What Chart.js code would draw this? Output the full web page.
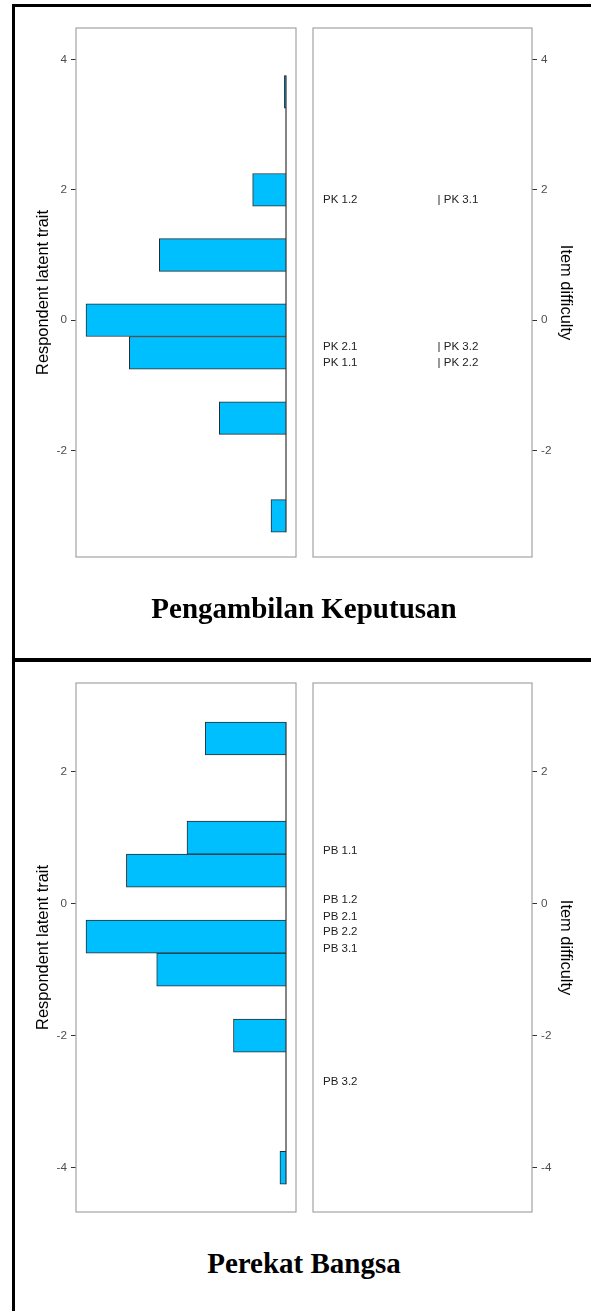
<!DOCTYPE html>
<html><head><meta charset="utf-8">
<script src="https://cdn.jsdelivr.net/npm/chart.js@4.4.1/dist/chart.umd.min.js"></script>
<style>
html,body{margin:0;padding:0;background:#fff;width:591px;height:1311px;overflow:hidden;position:relative}
canvas{position:absolute}
.frame{position:absolute;left:12px;top:4px;width:700px;height:1400px;border-left:3px solid #000;border-top:3px solid #000}
.divider{position:absolute;left:12px;top:658px;width:700px;height:4px;background:#000}
.ttl{position:absolute;left:14px;width:580px;text-align:center;font-family:"Liberation Serif","Times New Roman",serif;font-weight:bold;font-size:29px;line-height:29px;height:29px;color:#000;white-space:nowrap}
</style></head><body>
<div class="frame"></div><div class="divider"></div>
<canvas id="c1" width="300" height="600" style="left:0;top:0"></canvas>
<canvas id="c2" width="291" height="600" style="left:300px;top:0"></canvas>
<canvas id="c3" width="300" height="600" style="left:0;top:640px"></canvas>
<canvas id="c4" width="291" height="600" style="left:300px;top:640px"></canvas>
<div class="ttl" id="t1" style="top:594px"></div>
<div class="ttl" id="t2" style="top:1249px"></div>
<script>
// ---- data ----
const sectionTitles = ['Pengambilan Keputusan', 'Perekat Bangsa'];
const binWidth = 0.5;
const pkBins = [-3, -1.5, -0.5, 0, 1, 2, 3.5];
const pkCounts = [9, 40, 94, 120, 76, 20, 1];
const pbBins = [-4, -2, -1, -0.5, 0.5, 1, 2.5];
const pbCounts = [3, 26, 64, 99, 79, 49, 40];
const pkItems = ['PK 1.2', '| PK 3.1', 'PK 2.1', '| PK 3.2', 'PK 1.1', '| PK 2.2'];
const pkDifficulty = [1.84, 1.84, -0.41, -0.41, -0.65, -0.65];
const pkColumn = [0, 1, 0, 1, 0, 1];
const pbItems = ['PB 1.1', 'PB 1.2', 'PB 2.1', 'PB 2.2', 'PB 3.1', 'PB 3.2'];
const pbDifficulty = [0.80, 0.06, -0.20, -0.43, -0.69, -2.70];
const pbColumn = [0, 0, 0, 0, 0, 0];
const pkRange = [-3.63, 4.48];
const pbRange = [-4.67, 3.34];
const pkTicks = [4, 2, 0, -2];
const pbTicks = [2, 0, -2, -4];
const leftAxisTitle = 'Respondent latent trait';
const rightAxisTitle = 'Item difficulty';

document.getElementById('t1').textContent = sectionTitles[0];
document.getElementById('t2').textContent = sectionTitles[1];

Chart.defaults.font.family = '"Liberation Sans", Arial, sans-serif';

const panelBox = {
  id: 'panelBox',
  beforeDatasetsDraw(chart) {
    const {ctx, chartArea: a} = chart;
    ctx.save();
    ctx.strokeStyle = '#a3a3a3';
    ctx.lineWidth = 1.2;
    ctx.strokeRect(a.left, a.top, a.right - a.left, a.bottom - a.top);
    ctx.restore();
  }
};

function yAxis(range, ticks, position, width, title, titlePad) {
  return {
    type: 'linear', position: position, min: range[0], max: range[1], offset: false,
    afterBuildTicks: s => { s.ticks = ticks.map(v => ({value: v})); },
    afterFit: s => { s.width = width; },
    grid: {display: true, drawOnChartArea: false, drawTicks: true, tickLength: 5, color: '#333', lineWidth: 1, offset: false},
    border: {display: false},
    ticks: {color: '#4d4d4d', font: {size: 11.7}, padding: 4},
    title: {display: true, text: title, color: '#000', font: {size: 16.4}, padding: {top: titlePad, bottom: 0}}
  };
}

function histChart(id, bins, counts, range, ticks, padTop, padBottom) {
  const maxC = Math.max(...counts);
  const lo = Math.min(...bins) - binWidth / 2, hi = Math.max(...bins) + binWidth / 2;
  new Chart(document.getElementById(id), {
    type: 'bar',
    data: {datasets: [
      {type: 'bar', data: bins.map((b, i) => ({x: counts[i], y: b})),
       backgroundColor: '#00BFFF', borderColor: '#2b2b2b', borderWidth: 1, borderSkipped: 'start',
       categoryPercentage: 1, barPercentage: 1, order: 1},
      {type: 'line', data: [{x: 0, y: lo}, {x: 0, y: hi}], borderColor: '#333', borderWidth: 1.2,
       pointRadius: 0, fill: false, order: 0}
    ]},
    options: {
      indexAxis: 'y', responsive: false, animation: false, devicePixelRatio: 1,
      layout: {padding: {top: padTop, bottom: padBottom, left: 0, right: 4}},
      plugins: {legend: {display: false}, tooltip: {enabled: false}},
      scales: {
        x: {type: 'linear', display: false, reverse: true, min: -0.05 * maxC, max: 1.05 * maxC},
        y: yAxis(range, ticks, 'left', 76, leftAxisTitle, 33.5)
      }
    },
    plugins: [panelBox]
  });
}

function itemChart(id, items, diffs, cols, range, ticks, padTop, padBottom) {
  const labelPlugin = {
    id: 'itemLabels',
    afterDatasetsDraw(chart) {
      const ctx = chart.ctx;
      const meta = chart.getDatasetMeta(0);
      ctx.save();
      ctx.font = '11.5px "Liberation Sans", Arial, sans-serif';
      ctx.fillStyle = '#222';
      ctx.textAlign = 'left';
      ctx.textBaseline = 'middle';
      meta.data.forEach((pt, i) => ctx.fillText(items[i], pt.x, pt.y));
      ctx.restore();
    }
  };
  new Chart(document.getElementById(id), {
    type: 'scatter',
    data: {datasets: [{data: diffs.map((d, i) => ({x: cols[i], y: d})), pointRadius: 0, pointHoverRadius: 0}]},
    options: {
      responsive: false, animation: false, devicePixelRatio: 1,
      layout: {padding: {top: padTop, bottom: padBottom, left: 13, right: 0}},
      plugins: {legend: {display: false}, tooltip: {enabled: false}},
      scales: {
        x: {type: 'linear', display: false, min: -0.087, max: 1.824},
        y: yAxis(range, ticks, 'right', 59, rightAxisTitle, 15.2)
      }
    },
    plugins: [panelBox, labelPlugin]
  });
}

histChart('c1', pkBins, pkCounts, pkRange, pkTicks, 28, 43);
itemChart('c2', pkItems, pkDifficulty, pkColumn, pkRange, pkTicks, 28, 43);
histChart('c3', pbBins, pbCounts, pbRange, pbTicks, 43, 28);
itemChart('c4', pbItems, pbDifficulty, pbColumn, pbRange, pbTicks, 43, 28);
</script>
</body></html>
